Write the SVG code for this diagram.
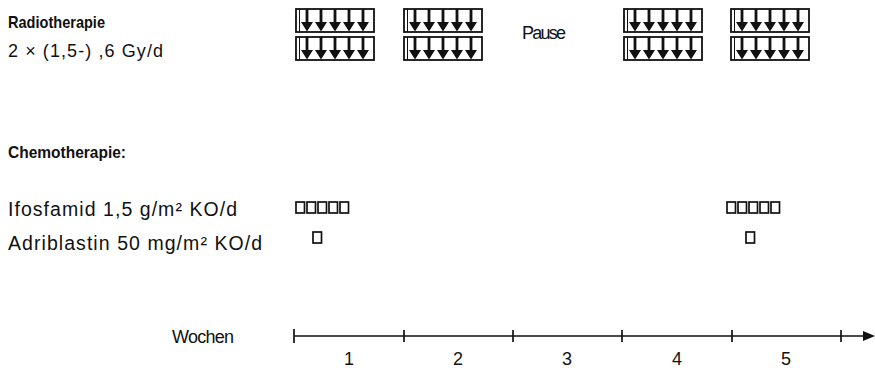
<svg xmlns="http://www.w3.org/2000/svg" xmlns:xlink="http://www.w3.org/1999/xlink" width="875" height="368" viewBox="0 0 875 368">
<style>
text{font-family:"Liberation Sans",Arial,sans-serif;fill:#111}
.b{font-weight:bold;font-size:17px}
.r{font-size:19.5px}
.s{font-size:18px}
.n{font-size:18px}
.box{fill:#fff;stroke:#111;stroke-width:1.8}
.shaft{stroke:#111;stroke-width:2.8}
.head{fill:#111}
.sq{fill:none;stroke:#111;stroke-width:1.7}
.ax{stroke:#111;stroke-width:1.7;fill:none}
</style>
<defs>
<g id="rt">
<rect class="box" x="0" y="0" width="78" height="23"/>
<path class="shaft" d="M3.5 0V23" style="stroke-width:1"/>
<path class="shaft" d="M11 0V15M25 0V15M39 0V15M53 0V15M67 0V15"/>
<path class="head" d="M5 13H17L11 22.5ZM19 13H31L25 22.5ZM33 13H45L39 22.5ZM47 13H59L53 22.5ZM61 13H73L67 22.5Z"/>
</g>
<g id="five">
<rect class="sq" x="0" y="0" width="8.5" height="11"/>
<rect class="sq" x="11" y="0" width="8.5" height="11"/>
<rect class="sq" x="22" y="0" width="8.5" height="11"/>
<rect class="sq" x="33" y="0" width="8.5" height="11"/>
<rect class="sq" x="44" y="0" width="8.5" height="11"/>
</g>
</defs>
<g id="labels">
<text class="b" x="8" y="28" textLength="97" lengthAdjust="spacingAndGlyphs">Radiotherapie</text>
<text class="s" x="8" y="57" textLength="155" lengthAdjust="spacing">2 × (1,5-) ,6 Gy/d</text>
<text class="b" x="8" y="158" textLength="118" lengthAdjust="spacingAndGlyphs">Chemotherapie:</text>
<text class="r" x="8" y="216" textLength="229" lengthAdjust="spacing">Ifosfamid 1,5 g/m² KO/d</text>
<text class="r" x="8" y="250" textLength="254" lengthAdjust="spacing">Adriblastin 50 mg/m² KO/d</text>
</g>
<g id="radiation">
<use xlink:href="#rt" x="296" y="9"/>
<use xlink:href="#rt" x="296" y="37"/>
<use xlink:href="#rt" x="404" y="9"/>
<use xlink:href="#rt" x="404" y="37"/>
<use xlink:href="#rt" x="624" y="9"/>
<use xlink:href="#rt" x="624" y="37"/>
<use xlink:href="#rt" x="731" y="9"/>
<use xlink:href="#rt" x="731" y="37"/>
<text class="n" x="522" y="39" textLength="44" lengthAdjust="spacing">Pause</text>
</g>
<g id="ifosfamid">
<use xlink:href="#five" x="296" y="202"/>
<use xlink:href="#five" x="727" y="202"/>
</g>
<g id="adriblastin">
<rect class="sq" x="313" y="232" width="8.5" height="11"/>
<rect class="sq" x="746" y="232" width="8.5" height="11"/>
</g>
<g id="axis">
<path class="ax" d="M294 336H866M294 329V343M404 330V342M513 330V342M622 330V342M732 330V342M841 330V342"/>
<path d="M863 331L875 336L863 341Z" fill="#111"/>
<text class="n" x="172" y="343" textLength="62" lengthAdjust="spacing">Wochen</text>
<text class="n" x="349" y="365" text-anchor="middle">1</text>
<text class="n" x="458" y="365" text-anchor="middle">2</text>
<text class="n" x="567" y="365" text-anchor="middle">3</text>
<text class="n" x="677" y="365" text-anchor="middle">4</text>
<text class="n" x="786" y="365" text-anchor="middle">5</text>
</g>
</svg>
